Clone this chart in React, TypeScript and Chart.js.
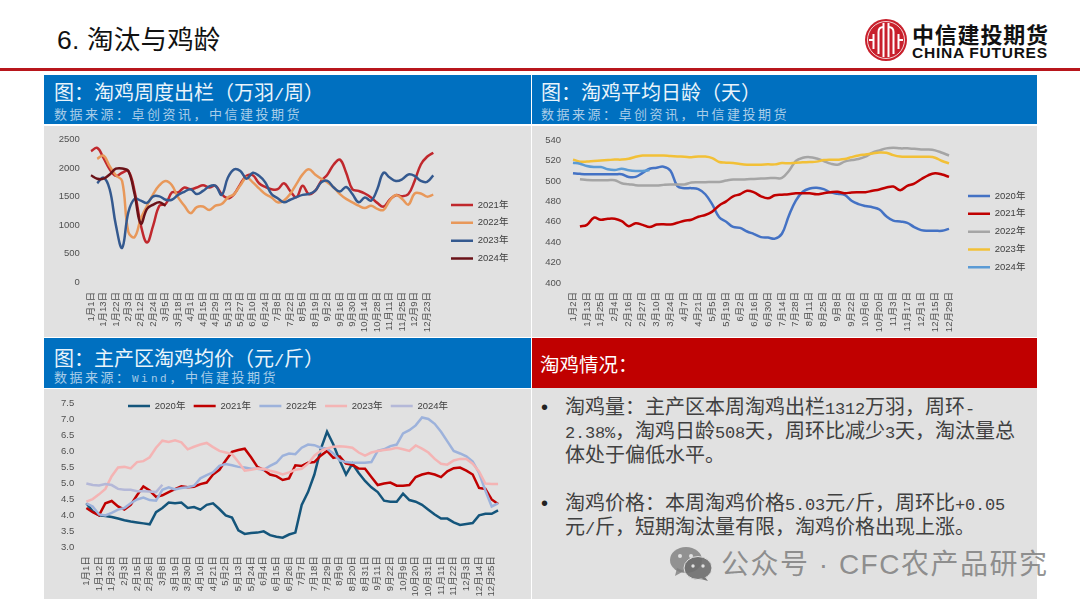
import React, { useEffect, useRef } from "react";
import { Chart, registerables } from "chart.js";

Chart.register(...registerables);

const LATIN_CJK = '"Liberation Sans","Noto Sans CJK SC",sans-serif';
const HALF_CJK = '"HalfLatin","Noto Sans CJK SC",sans-serif';
const FONT_FACE = '@font-face{font-family:"HalfLatin";src:local("Liberation Mono");size-adjust:83.3%;unicode-range:U+0020-007E;}';

// full-width punctuation
const COLON = "\uFF1A";
const COMMA = "\uFF0C";
const LP = "\uFF08";
const RP = "\uFF09";

// ---------- chart 1: weekly culled hens ----------
const culledWeeks = ["1月1日","1月7日","1月13日","1月18日","1月22日","1月28日","2月3日","2月8日","2月12日","2月18日","2月24日","2月28日","3月5日","3月11日","3月18日","3月25日","4月1日","4月8日","4月15日","4月22日","4月29日","5月6日","5月13日","5月20日","5月27日","6月3日","6月10日","6月17日","6月24日","7月1日","7月8日","7月15日","7月22日","7月29日","8月5日","8月12日","8月19日","8月26日","9月2日","9月9日","9月16日","9月23日","9月30日","10月7日","10月14日","10月21日","10月28日","11月4日","11月11日","11月18日","11月25日","12月2日","12月9日","12月16日","12月23日","12月30日"];
const culled2021 = [2300,2355,2180,1980,1865,1920,1950,1600,1000,695,995,1340,1370,1575,1575,1660,1630,1660,1700,1660,1690,1545,1470,1545,1720,1865,1875,1735,1670,1630,1630,1735,1600,1490,1690,1545,1600,1775,1890,2065,2150,1920,1630,1600,1555,1485,1390,1325,1445,1525,1505,1545,1775,2065,2200,2270];
const culled2022 = [null,2165,2220,2035,1875,1775,880,790,1110,1340,1545,1700,1775,1700,1485,1340,1210,1315,1325,1265,1340,1370,1485,1545,1700,1835,1750,1645,1545,1485,1400,1430,1545,1720,1890,1980,1890,1815,1750,1660,1545,1460,1400,1340,1300,1340,1285,1265,1430,1530,1460,1360,1555,1555,1500,1535];
const culled2023 = [null,1735,1835,1630,995,600,1225,1460,1430,1390,1505,1505,1445,1445,1530,1585,1630,1545,1600,1680,1690,1530,1835,1980,1950,1815,1920,1865,1750,1545,1470,1400,1445,1490,1530,1545,1600,1750,1775,1660,1590,1670,1545,1400,1485,1430,1630,1920,1835,1775,1805,1890,1865,1775,1760,1875];
const culled2024 = [1875,1815,1815,1890,1990,1995,1950,1545,1025,1285,1360,1400,1340];

// ---------- chart 2: average age in days ----------
const ageWeeks = ["1月2日","1月8日","1月13日","1月19日","1月25日","1月30日","2月4日","2月10日","2月16日","2月22日","2月27日","3月3日","3月10日","3月17日","3月24日","3月31日","4月7日","4月14日","4月21日","4月28日","5月5日","5月12日","5月19日","5月26日","6月2日","6月9日","6月16日","6月23日","6月30日","7月7日","7月14日","7月21日","7月28日","8月4日","8月11日","8月18日","8月25日","9月1日","9月8日","9月15日","9月22日","9月29日","10月6日","10月13日","10月20日","10月27日","11月3日","11月10日","11月17日","11月24日","12月1日","12月8日","12月15日","12月22日","12月29日"];
const age2020 = [507.6,507,506.6,506.6,506.6,506.6,506.6,506.6,504,504,508,512,513,514,510,495,493,493,492,487,477,464.5,460,455,454,450.5,448,445,444.5,443.5,448.3,466,480.7,489.4,492.7,493.3,492,488.8,487.5,486.5,480.7,477.4,475.5,474.2,472,465.4,461.2,460.3,459,454.8,451.8,451.2,451.2,451.2,453.1];
const age2021 = [null,455.4,457,464,462,463,463,460.6,455.7,458.6,457,454.8,457.3,457.7,457.3,459,461,462,465,466.7,470,476,480,485,487,490.4,488.8,485,483,486,486.5,487,488,488,488,487,488,489,489.4,488,488.8,489,489,490.4,491.7,493.6,494.6,491,495.3,497.5,501.7,505.6,507.6,506.3,504];
const age2022 = [null,501.7,501,500.8,500.8,500.8,500.8,497.8,496.9,495.9,495.6,495.6,495.6,496.2,496.6,496.6,496.6,498.5,498.8,498.8,499,499,500.4,501.4,501.4,501.7,502,502.4,502.7,503,503,509.8,519.6,522.8,523.4,522,519.6,517,516,519,520.5,521.5,523.8,527.7,530,532,532.5,532,532,531.5,531,530.9,530,527.7,525];
const age2023 = [521,519,519,519.6,520,520.5,521,521,521.8,523.8,525,525,525,525,524.4,524,523.8,523.4,524,524,522.5,518.6,518,517.6,516.6,516,516,516,516.3,516.3,517.6,517.3,518,518.3,518.6,519,520.5,520.9,520.9,521.5,523.4,525,526,527,528,527.7,525.4,524,523.8,523.8,523.8,523.8,522.8,519.6,517.3];
const age2024 = [518,517,514.7,513.7,513.7,511.5,510.8,512,510.5,509.8,509.8,510.8];

// ---------- chart 3: average price ----------
const priceDays = ["1月1日","1月6日","1月12日","1月17日","1月23日","1月28日","2月3日","2月9日","2月15日","2月20日","2月26日","3月3日","3月8日","3月13日","3月19日","3月24日","3月30日","4月4日","4月10日","4月15日","4月21日","4月26日","5月2日","5月7日","5月13日","5月18日","5月24日","5月29日","6月4日","6月9日","6月15日","6月20日","6月26日","7月1日","7月7日","7月12日","7月18日","7月23日","7月29日","8月3日","8月9日","8月14日","8月20日","8月25日","8月31日","9月5日","9月11日","9月16日","9月22日","9月30日","10月9日","10月14日","10月20日","10月25日","10月31日","11月5日","11月11日","11月16日","11月22日","11月27日","12月3日","12月8日","12月14日","12月19日","12月25日","12月30日"];
const price2020 = [4.38,4.13,4.0,3.98,3.95,3.9,3.85,3.81,3.78,3.75,3.72,4.1,4.23,4.4,4.38,4.4,4.23,4.26,4.18,4.33,4.38,4.2,4.0,3.93,3.53,3.42,3.45,3.46,3.5,3.38,3.33,3.3,3.4,3.46,4.33,4.73,5.28,6.07,6.62,6.22,5.72,5.28,5.62,5.33,5.08,4.88,4.73,4.46,4.43,4.43,4.68,4.48,4.43,4.33,4.18,4.03,3.9,3.9,3.78,3.7,3.73,3.76,4.0,4.05,4.05,4.16];
const price2021 = [4.23,4.1,4.0,4.38,4.45,4.28,4.18,4.33,4.63,4.91,4.78,4.58,4.63,4.73,4.82,4.91,4.88,4.9,4.98,5.03,5.28,5.43,5.72,5.99,6.05,6.09,5.82,5.52,5.43,5.28,5.23,5.11,5.16,5.57,5.55,5.65,5.67,5.87,6.02,5.8,5.85,5.62,5.59,5.47,5.46,5.2,4.95,5.0,5.03,4.93,4.93,4.95,5.2,5.28,5.33,5.28,5.2,5.38,5.48,5.5,5.4,5.28,4.86,4.83,4.5,4.36];
const price2022 = [4.38,4.28,4.03,4.0,4.08,4.18,4.23,4.38,4.5,4.56,4.48,4.46,4.8,4.88,4.81,4.86,4.88,4.93,5.16,5.26,5.35,5.55,5.61,5.57,5.52,5.5,5.46,5.46,5.43,5.55,5.65,5.87,5.94,5.92,6.12,6.22,6.2,6.12,6.09,5.94,5.72,5.67,5.65,5.65,5.65,5.67,6.02,6.07,6.17,6.22,6.57,6.67,6.82,7.07,7.02,6.87,6.62,6.32,6.02,5.94,5.85,5.69,5.33,4.78,4.28,4.38];
const price2023 = [4.43,4.51,4.66,4.83,5.23,5.5,5.52,5.47,5.67,5.7,5.82,6.12,6.34,6.3,6.35,6.29,6.07,6.15,6.22,6.27,6.14,6.02,5.97,5.92,5.67,5.4,5.43,5.47,5.46,5.4,5.35,5.28,5.35,5.43,5.46,5.62,5.87,6.02,6.1,6.15,6.17,6.15,6.12,5.97,5.87,5.97,6.02,6.05,6.07,6.12,6.07,6.02,6.19,6.09,5.97,5.77,5.62,5.59,5.72,5.77,5.77,5.62,5.38,5.0,4.98,4.98];
const price2024 = [5.0,4.95,4.94,4.98,4.95,4.83,4.8,4.8,4.76,4.76,4.75,4.73,4.96];

const culledTicks = { min: 0, max: 2500, step: 500, decimals: 0 };
const ageTicks = { min: 400, max: 540, step: 20, decimals: 0 };
const priceTicks = { min: 3, max: 7.5, step: 0.5, decimals: 1 };

type Series = { label: string; data: (number | null)[]; color: string };

const culledSeries: Series[] = [
  { label: "2021年", data: culled2021, color: "#C0282D" },
  { label: "2022年", data: culled2022, color: "#E8985A" },
  { label: "2023年", data: culled2023, color: "#34598F" },
  { label: "2024年", data: culled2024, color: "#6A1218" },
];
const ageSeries: Series[] = [
  { label: "2020年", data: age2020, color: "#4472C4" },
  { label: "2021年", data: age2021, color: "#C00000" },
  { label: "2022年", data: age2022, color: "#A5A5A5" },
  { label: "2023年", data: age2023, color: "#F2C037" },
  { label: "2024年", data: age2024, color: "#5B9BD5" },
];
const priceSeries: Series[] = [
  { label: "2020年", data: price2020, color: "#14557B" },
  { label: "2021年", data: price2021, color: "#C00000" },
  { label: "2022年", data: price2022, color: "#9DB2DB" },
  { label: "2023年", data: price2023, color: "#F4B4B4" },
  { label: "2024年", data: price2024, color: "#B4B8D8" },
];

const sourceZc = `数据来源${COLON}卓创资讯${COMMA}中信建投期货`;
const sourceWind = `数据来源${COLON}Wind${COMMA}中信建投期货`;
const bodyLines = [
  `淘鸡量${COLON}主产区本周淘鸡出栏1312万羽${COMMA}周环-`,
  `2.38%${COMMA}淘鸡日龄508天${COMMA}周环比减少3天${COMMA}淘汰量总`,
  "体处于偏低水平。",
  "",
  `淘鸡价格${COLON}本周淘鸡价格5.03元/斤${COMMA}周环比+0.05`,
  `元/斤${COMMA}短期淘汰量有限${COMMA}淘鸡价格出现上涨。`,
];

type Layout = {
  left: number; top: number; width: number; height: number;
  yWidth: number; xHeight: number; padTop: number; padRight: number;
  yPad: number; xPad: number; tension: number; lineWidth: number;
  legendPos: "right" | "top"; legendX: number; legendY: number; legendPad: number;
};

function ChartPanel(props: { labels: string[]; series: Series[]; ticks: any; layout: Layout }) {
  const ref = useRef<HTMLCanvasElement | null>(null);
  const { labels, series, ticks, layout } = props;
  useEffect(() => {
    if (!ref.current) return;
    const floatLegend = {
      id: "floatLegend",
      beforeLayout(chart: any) {
        const l = chart.legend;
        if (l && !l.__wrapped) {
          const fit = l.fit;
          l.fit = function () {
            fit.call(this);
            if (layout.legendPos === "top") this.height = 0;
            else this.width = 0;
          };
          l.__wrapped = true;
        }
      },
      afterLayout(chart: any) {
        const l = chart.legend;
        l.left = layout.legendX;
        l.top = layout.legendY;
        l.right = chart.width;
        l.bottom = chart.height;
      },
    };
    const chart = new Chart(ref.current, {
      type: "line",
      data: {
        labels,
        datasets: series.map((s, i) => ({
          label: s.label,
          data: s.data,
          borderColor: s.color,
          backgroundColor: s.color,
          borderWidth: layout.lineWidth,
          pointRadius: 0,
          tension: layout.tension,
          order: -i,
        })),
      },
      options: {
        animation: false,
        responsive: false,
        devicePixelRatio: 1,
        layout: { padding: { left: 0, top: layout.padTop, right: layout.padRight, bottom: 0 } },
        plugins: {
          tooltip: { enabled: false },
          legend: {
            position: layout.legendPos,
            align: "start",
            labels: {
              usePointStyle: true,
              pointStyle: "line",
              pointStyleWidth: 22,
              padding: layout.legendPad,
              color: "#404040",
              font: { family: LATIN_CJK, size: 9.5 },
              sort: (a: any, b: any) => a.datasetIndex - b.datasetIndex,
            },
          },
        },
        scales: {
          x: {
            offset: true,
            grid: { display: false, drawTicks: false },
            border: { display: false },
            afterFit: (s: any) => { s.height = layout.xHeight; },
            ticks: {
              autoSkip: false,
              minRotation: 90,
              maxRotation: 90,
              padding: layout.xPad,
              color: "#505050",
              font: { family: LATIN_CJK, size: 9.5 },
              callback: function (this: any, v: any, i: number) {
                return i % 2 === 0 ? this.getLabelForValue(v) : "";
              },
            },
          },
          y: {
            min: ticks.min,
            max: ticks.max,
            grid: { display: false, drawTicks: false },
            border: { display: false },
            afterFit: (s: any) => { s.width = layout.yWidth; },
            ticks: {
              stepSize: ticks.step,
              padding: layout.yPad,
              color: "#505050",
              font: { family: LATIN_CJK, size: 9.5 },
              callback: (v: any) => Number(v).toFixed(ticks.decimals),
            },
          },
        },
      } as any,
      plugins: [floatLegend],
    } as any);
    return () => chart.destroy();
  }, []);
  return (
    <canvas
      ref={ref}
      width={layout.width}
      height={layout.height}
      style={{ position: "absolute", left: layout.left, top: layout.top, width: layout.width, height: layout.height }}
    />
  );
}

const box = (left: number, top: number, width: number, height: number, background: string): React.CSSProperties => ({
  position: "absolute", left, top, width, height, background,
});
const txt = (left: number, centerY: number, size: number, color: string, extra: React.CSSProperties = {}): React.CSSProperties => ({
  position: "absolute", left, top: centerY - 20, height: 40, lineHeight: "40px", fontSize: size, color,
  fontFamily: LATIN_CJK, whiteSpace: "nowrap", ...extra,
});

const HEAD = "#0070C0";
const PANEL = "#E1E1E1";
const HEAD_TXT = "#EAF4FB";
const SRC_TXT = "#A9CDE8";

function Logo() {
  return (
    <svg style={{ position: "absolute", left: 864, top: 18 }} width={44} height={44} viewBox="0 0 44 44">
      <circle cx={22} cy={22} r={21} fill="#C8202C" />
      <circle cx={22} cy={22} r={18.5} fill="none" stroke="#fff" strokeWidth={0.8} />
      <g fill="none" stroke="#fff" strokeWidth={2}>
        <path d="M19.5 5 V39" />
        <path d="M24.5 5 V39" />
        <path d="M14.5 36 V14 Q14.5 9 19.5 9" />
        <path d="M29.5 36 V14 Q29.5 9 24.5 9" />
        <path d="M9.5 31 V16" />
        <path d="M34.5 31 V16" />
        <path d="M5 22 H10" />
        <path d="M34 22 H39" />
      </g>
    </svg>
  );
}

function WeChat() {
  return (
    <svg style={{ position: "absolute", left: 670, top: 547 }} width={42} height={34} viewBox="0 0 42 34">
      <g fill="rgba(125,125,125,0.8)">
        <ellipse cx={16} cy={13} rx={16} ry={13} />
        <path d="M7 21 L5 29 L14 24 Z" />
      </g>
      <ellipse cx={28} cy={21} rx={14} ry={11.5} fill="rgba(110,110,110,0.9)" stroke="#E1E1E1" strokeWidth={1} />
      <path d="M35 30 L38 34 L31 32 Z" fill="rgba(110,110,110,0.9)" />
      <g fill="#E1E1E1">
        <circle cx={10} cy={9} r={2} /><circle cx={21} cy={9} r={2} />
        <circle cx={23} cy={19} r={1.7} /><circle cx={33} cy={19} r={1.7} />
      </g>
    </svg>
  );
}

export default function App() {
  return (
    <div style={{ position: "fixed", left: 0, top: 0, width: 1080, height: 608, overflow: "hidden", background: "#fff" }}>
      <style>{FONT_FACE}</style>
      <div style={txt(57, 40, 26.5, "#111", { letterSpacing: 0.2 })}>6. 淘汰与鸡龄</div>
      <Logo />
      <div style={txt(912, 33, 22, "#111", { fontFamily: '"Noto Sans CJK SC",sans-serif', fontWeight: 700, letterSpacing: 0.8 })}>中信建投期货</div>
      <div style={txt(912, 53, 15.5, "#111", { fontWeight: 700, letterSpacing: 0.75 })}>CHINA FUTURES</div>
      <div style={box(0, 68, 1080, 3, "#B8161C")} />

      <div style={box(44, 75, 487, 49, HEAD)} />
      <div style={box(532, 75, 505, 49, HEAD)} />
      <div style={box(44, 126, 487, 211, PANEL)} />
      <div style={box(532, 126, 505, 211, PANEL)} />
      <div style={box(44, 338, 487, 50, HEAD)} />
      <div style={box(532, 338, 505, 50, "#C00000")} />
      <div style={box(44, 389, 487, 210, PANEL)} />
      <div style={box(532, 388, 505, 211, PANEL)} />

      <div style={txt(54, 95.5, 20, HEAD_TXT, { fontFamily: HALF_CJK })}>{`图${COLON}淘鸡周度出栏${LP}万羽/周${RP}`}</div>
      <div style={txt(54, 116, 13, SRC_TXT, { letterSpacing: 2.5, fontFamily: HALF_CJK })}>{sourceZc}</div>
      <div style={txt(541, 95.5, 20, HEAD_TXT, { fontFamily: HALF_CJK })}>{`图${COLON}淘鸡平均日龄${LP}天${RP}`}</div>
      <div style={txt(541, 116, 13, SRC_TXT, { letterSpacing: 2.5, fontFamily: HALF_CJK })}>{sourceZc}</div>
      <div style={txt(54, 361.5, 20, HEAD_TXT, { fontFamily: HALF_CJK })}>{`图${COLON}主产区淘鸡均价${LP}元/斤${RP}`}</div>
      <div style={txt(54, 379, 13, SRC_TXT, { letterSpacing: 2.5, fontFamily: HALF_CJK })}>{sourceWind}</div>
      <div style={txt(540, 365, 19.5, "#fff")}>{`淘鸡情况${COLON}`}</div>

      <ChartPanel labels={culledWeeks} series={culledSeries} ticks={culledTicks}
        layout={{ left: 44, top: 126, width: 487, height: 211, yWidth: 43.9, xHeight: 55, padTop: 12, padRight: 94.6, yPad: 8, xPad: 10, tension: 0.4, lineWidth: 2.5, legendPos: "right", legendX: 398.7, legendY: 66, legendPad: 8.3 }} />
      <ChartPanel labels={ageWeeks} series={ageSeries} ticks={ageTicks}
        layout={{ left: 532, top: 126, width: 505, height: 211, yWidth: 37.5, xHeight: 54, padTop: 13, padRight: 84.5, yPad: 8.5, xPad: 9, tension: 0.4, lineWidth: 2.5, legendPos: "right", legendX: 427.7, legendY: 57, legendPad: 8.3 }} />
      <ChartPanel labels={priceDays} series={priceSeries} ticks={priceTicks}
        layout={{ left: 44, top: 389, width: 487, height: 210, yWidth: 39.2, xHeight: 51.7, padTop: 8, padRight: 29.8, yPad: 9, xPad: 9, tension: 0, lineWidth: 2.5, legendPos: "top", legendX: 75.7, legendY: 4, legendPad: 8.3 }} />

      <div style={txt(541, 407, 20, "#222")}>•</div>
      <div style={txt(541, 503, 20, "#222")}>•</div>
      <div style={{ position: "absolute", left: 565, top: 398, fontSize: 20, lineHeight: "24px", color: "#404040", fontFamily: HALF_CJK, whiteSpace: "nowrap" }}>
        {bodyLines.map((l, i) => <div key={i} style={{ height: 24 }}>{l}</div>)}
      </div>

      <WeChat />
      <div style={txt(721, 565, 28, "rgba(120,120,120,0.8)", { letterSpacing: 1.5 })}>公众号 · CFC农产品研究</div>
    </div>
  );
}
